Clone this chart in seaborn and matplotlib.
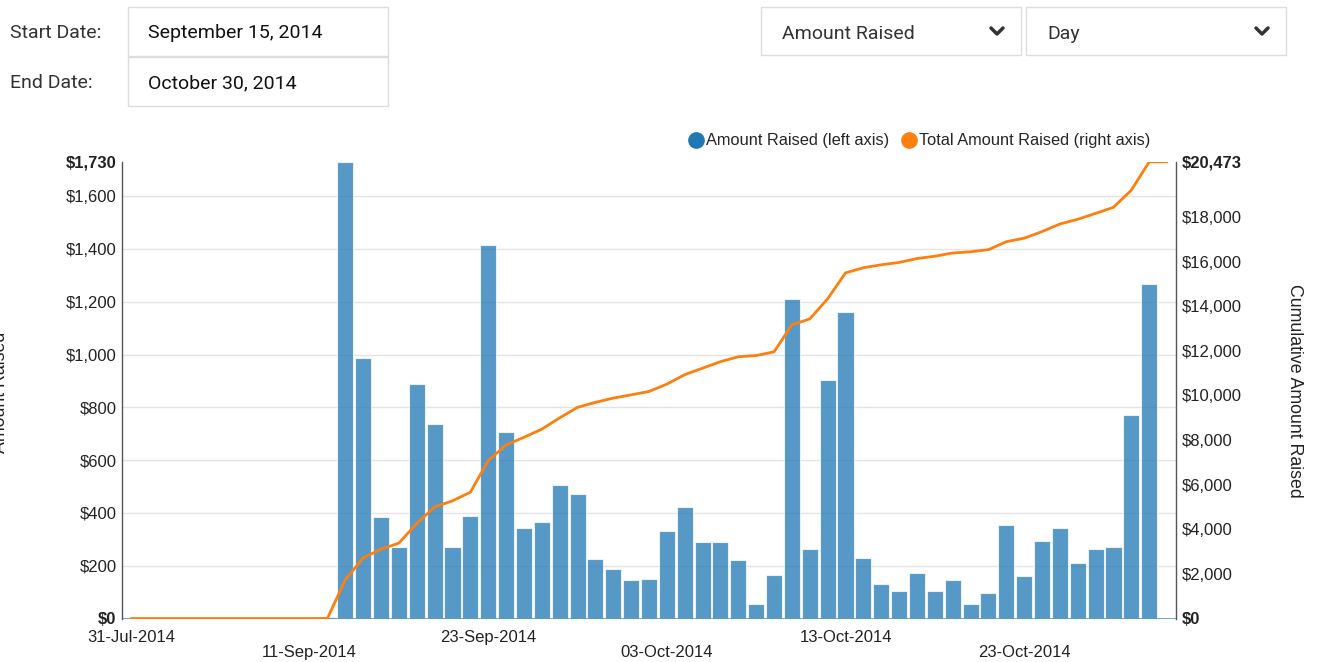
import numpy as np
import pandas as pd
import seaborn as sns
import matplotlib.pyplot as plt
from matplotlib.lines import Line2D
from matplotlib.patches import Rectangle

sns.set_theme(style="white")
plt.rcParams['font.family'] = ['Liberation Sans', 'DejaVu Sans']

# one category per day on the chart (0 = 31-Jul-2014 ... 58 = last day)
day = list(range(59))
amount_raised = [0, 0, 0, 0, 0, 0, 0, 0, 0, 0,
                 0, 5, 1730, 988, 384, 272, 888, 735, 272, 389,
                 1414, 705, 341, 366, 506, 470, 226, 189, 147, 150,
                 330, 424, 291, 291, 221, 54, 166, 1212, 264, 902,
                 1162, 230, 132, 105, 174, 105, 145, 54, 96, 355,
                 160, 294, 341, 211, 265, 272, 770, 1268, 3]

tick_pos = [0, 10, 20, 30, 40, 50]
tick_labels = ["31-Jul-2014", "11-Sep-2014", "23-Sep-2014",
               "03-Oct-2014", "13-Oct-2014", "23-Oct-2014"]

left_ticks = [0, 200, 400, 600, 800, 1000, 1200, 1400, 1600, 1730]
right_ticks = [0, 2000, 4000, 6000, 8000, 10000, 12000, 14000, 16000, 18000, 20473]

df = pd.DataFrame({"day": day, "amount": amount_raised})
# the orange line is the running total of the bars
df["total"] = df["amount"].cumsum()

W, H = 1317, 662
fig = plt.figure(figsize=(W / 100, H / 100), dpi=100)

def fx(px):
    return px / W

def fy(py):
    return 1 - py / H

ax = fig.add_axes([fx(122), fy(618.5), fx(1176 - 122), (618.5 - 161.8) / H])

ax.grid(True, color="#e4e4e4", lw=1)
ax.set_axisbelow(True)
sns.barplot(data=df, x="day", y="amount", ax=ax, color="#1f77b4", alpha=0.75,
            saturation=1, width=0.9, edgecolor="white", linewidth=0.8)
ax.axhline(0, color="#5799c7", lw=1.2, zorder=1)

ax2 = ax.twinx()
sns.lineplot(data=df, x="day", y="total", ax=ax2, color="#ff7f0e", lw=2)

ax.set_xlim(-0.5, 58.5)
ax.set_ylim(0, 1730)
ax2.set_ylim(0, 20473)

ax.set_yticks(left_ticks)
ax.set_yticklabels([f"${v:,}" for v in left_ticks])
ax2.set_yticks(right_ticks)
ax2.set_yticklabels([f"${v:,}" for v in right_ticks])
for lab in (ax.get_yticklabels()[0], ax.get_yticklabels()[-1],
            ax2.get_yticklabels()[0], ax2.get_yticklabels()[-1]):
    lab.set_fontweight("bold")
ax.get_ygridlines()[-1].set_visible(False)

# staggered date labels
ax.set_xticks(tick_pos)
ax.set_xticklabels([t if i % 2 == 0 else "\n" + t for i, t in enumerate(tick_labels)],
                   linespacing=1.05)

ax.tick_params(axis="y", length=0, pad=4, labelsize=12, labelcolor="#222222")
ax.tick_params(axis="x", length=0, pad=8, labelsize=12, labelcolor="#222222")
ax2.tick_params(axis="y", length=0, pad=4, labelsize=12, labelcolor="#222222")
ax.set_xlabel("")
ax.set_ylabel("")
ax2.set_xlabel("")
ax2.set_ylabel("")
ax2.grid(False)

for s in ["top", "right", "bottom"]:
    ax.spines[s].set_visible(False)
for s in ["top", "left", "bottom"]:
    ax2.spines[s].set_visible(False)
ax.spines["left"].set_color("#555555")
ax2.spines["right"].set_color("#555555")
ax.spines["left"].set_linewidth(1)
ax2.spines["right"].set_linewidth(1)

fig.text(fx(9), fy(392), "Amount Raised", rotation=90, ha="right", va="center",
         fontsize=12.8, color="#222222")
fig.text(fx(1295), fy(391), "Cumulative Amount Raised", rotation=-90, ha="center",
         va="center", fontsize=12.8, color="#222222")

# legend above the plot
handles = [Line2D([0], [0], marker="o", ls="", color="#1f77b4", markersize=11),
           Line2D([0], [0], marker="o", ls="", color="#ff7f0e", markersize=11)]
fig.legend(handles, ["Amount Raised (left axis)", "Total Amount Raised (right axis)"],
           loc="center right", bbox_to_anchor=(fx(1150), fy(141)), ncol=2,
           frameon=False, fontsize=11.8, handletextpad=0.1, columnspacing=0.7,
           handlelength=1.0, borderpad=0, borderaxespad=0)

# form controls at the top
hdr = dict(family=["Roboto", "DejaVu Sans"], fontsize=14, color="#333333", va="center")
for x0, y0, w, h in [(128, 7, 260, 49), (128, 57, 260, 49),
                     (761, 7, 260, 48), (1026, 7, 260, 48)]:
    fig.add_artist(Rectangle((fx(x0), fy(y0 + h)), w / W, h / H, transform=fig.transFigure,
                             facecolor="white", edgecolor="#dddddd", lw=1))
fig.text(fx(10), fy(33), "Start Date:", **hdr)
fig.text(fx(10), fy(83), "End Date:", **hdr)
fig.text(fx(148), fy(33), "September 15, 2014", **{**hdr, "color": "#111111"})
fig.text(fx(148), fy(83), "October 30, 2014", **{**hdr, "color": "#111111"})
fig.text(fx(782), fy(34), "Amount Raised", **hdr)
fig.text(fx(1047), fy(34), "Day", **hdr)
for cx in [997, 1262]:
    fig.add_artist(Line2D([fx(cx - 6), fx(cx), fx(cx + 6)], [fy(28), fy(34), fy(28)],
                          transform=fig.transFigure, color="#333333", lw=2.5))

fig.savefig("out.png", dpi=100)
